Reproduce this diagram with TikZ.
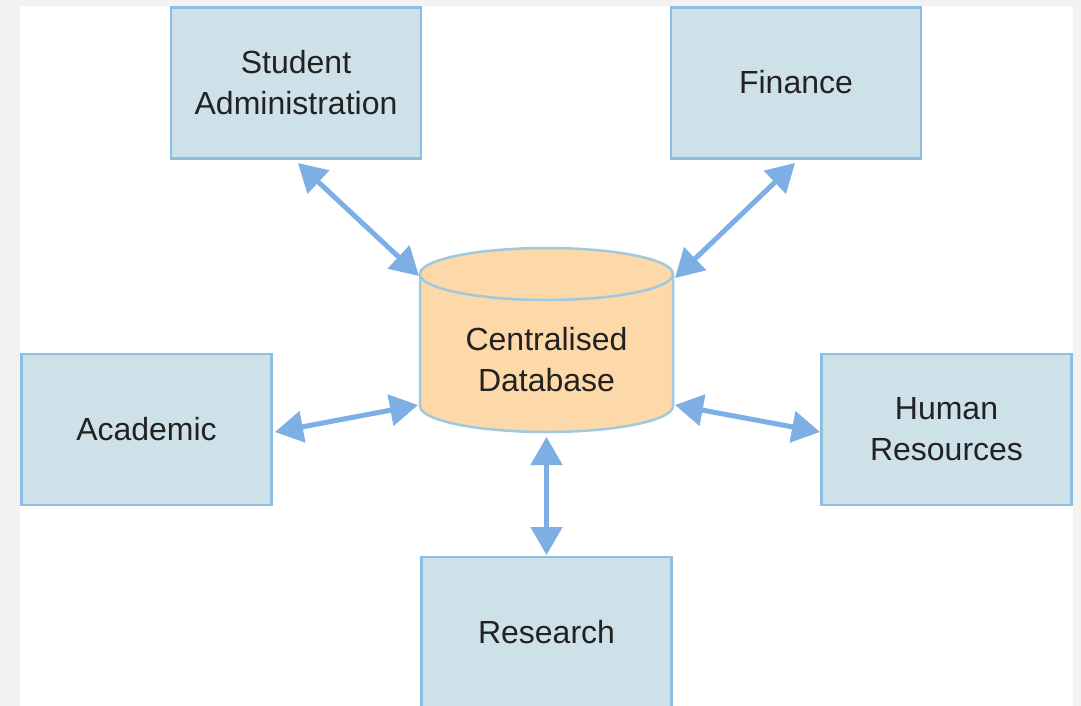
\documentclass[tikz,border=0pt]{standalone}
\usepackage{fontspec}
\setmainfont{Liberation Sans}
\usetikzlibrary{arrows.meta}
\definecolor{bggray}{HTML}{F2F2F0}
\definecolor{boxfill}{HTML}{CEE1E9}
\definecolor{boxline}{HTML}{8DBFE4}
\definecolor{arrowc}{HTML}{7DAFE4}
\definecolor{cylfill}{HTML}{FDD8A9}
\definecolor{cylline}{HTML}{9FC9DE}
\definecolor{txt}{HTML}{222222}
\begin{document}
\begin{tikzpicture}[x=1pt,y=-1pt,
  box/.style={draw=boxline, fill=boxfill, line width=2.5pt, minimum width=250pt, minimum height=151pt,
    align=center, font=\fontsize{32}{41}\selectfont, text=txt, inner sep=0pt},
  cyl/.style={draw=cylline, fill=cylfill, line width=2.5pt},
  link/.style={draw=arrowc, line width=5pt, {Triangle[length=28pt,width=31pt]}-{Triangle[length=28pt,width=31pt]}, shorten <=0pt, shorten >=0pt}]
\useasboundingbox (0,0) rectangle (1081,706);
\clip (0,0) rectangle (1081,706);
\fill[bggray] (0,0) rectangle (1081,706);
\fill[white] (20,6) rectangle (1073,706);
% boxes
\node[box] (sa) at (296,83) {Student\\Administration};
\node[box] (fi) at (796,83) {\raisebox{3pt}{Finance}};
\node[box] (ac) at (146.5,429.5) {Academic};
\node[box] (hr) at (946.5,429.5) {Human\\Resources};
\node[box] (re) at (546.5,632.5) {Research};
% cylinder
\draw[cyl] (420,274) -- (420,406) arc[start angle=180, end angle=0, x radius=126.5, y radius=26]
  -- (673,274) arc[start angle=0, end angle=-180, x radius=126.5, y radius=26] -- cycle;
\draw[cylline, line width=2.5pt] (420,274) arc[start angle=180, end angle=0, x radius=126.5, y radius=26];
\node[align=center, font=\fontsize{32}{41}\selectfont, text=txt, minimum width=250pt, minimum height=180pt] (db) at (546.5,360) {Centralised\\Database};
\coordinate (cnw) at (419,276);
\coordinate (cne) at (675,278);
\coordinate (csw) at (418,405);
\coordinate (cse) at (675,405);
\coordinate (cs) at (546.5,437);
\coordinate (san) at (298,163);
\coordinate (fin) at (795,163);
\coordinate (acn) at (275,432);
\coordinate (hrn) at (820,432);
\coordinate (ren) at (546.5,555);
\draw[link] (san) -- (cnw);
\draw[link] (fin) -- (cne);
\draw[link] (acn) -- (csw);
\draw[link] (hrn) -- (cse);
\draw[link] (cs) -- (ren);
\end{tikzpicture}
\end{document}
